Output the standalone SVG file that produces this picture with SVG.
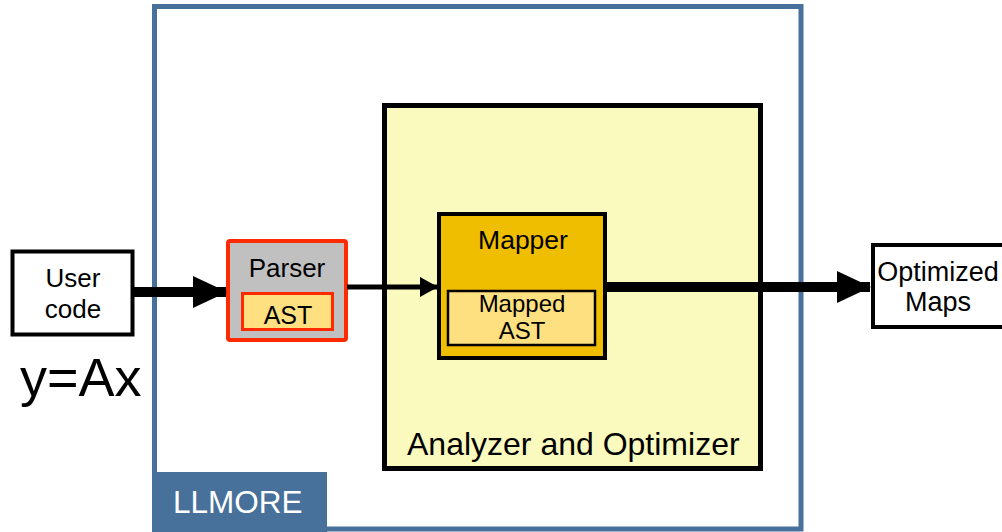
<svg xmlns="http://www.w3.org/2000/svg" width="1002" height="532" viewBox="0 0 1002 532">
<defs>
<style>
text{font-family:"Liberation Sans",Arial,sans-serif;fill:#000}
.c{text-anchor:middle}
.box{fill:#fff;stroke:#000;stroke-width:4}
</style>
<marker id="ah" markerUnits="userSpaceOnUse" markerWidth="34" markerHeight="32" refX="33" refY="16" orient="auto" viewBox="0 0 34 32"><path d="M0,0 L34,16 L0,32 Z" fill="#000"/></marker>
<marker id="ahs" markerUnits="userSpaceOnUse" markerWidth="18" markerHeight="20" refX="17" refY="10" orient="auto" viewBox="0 0 18 20"><path d="M0,0 L18,10 L0,20 Z" fill="#000"/></marker>
</defs>
<rect width="1002" height="532" fill="#fff"/>
<g id="llmore">
<rect x="154.5" y="6.5" width="646.5" height="522.5" fill="#fff" stroke="#47709a" stroke-width="5"/>
<rect x="152" y="472" width="175" height="60" fill="#47709a"/>
<text x="173" y="513" font-size="31.5" style="fill:#fff">LLMORE</text>
</g>
<g id="analyzer">
<rect x="384.5" y="105.5" width="376" height="363" fill="#fafabe" stroke="#000" stroke-width="5"/>
<text x="407" y="455" font-size="32">Analyzer and Optimizer</text>
</g>
<g id="mapper">
<rect x="439" y="214" width="166" height="144" fill="#f0be00" stroke="#000" stroke-width="4"/>
<text x="523" y="249" font-size="26.5" class="c">Mapper</text>
<rect x="448" y="291" width="147" height="54" fill="#ffe080" stroke="#000" stroke-width="2.5"/>
<text x="522" y="312" font-size="24" class="c">Mapped</text>
<text x="522" y="339" font-size="24" class="c">AST</text>
</g>
<g id="parser">
<rect x="228" y="241" width="118" height="99" rx="2" fill="#c0c0c0" stroke="#ff2a00" stroke-width="4"/>
<text x="287" y="277" font-size="26" class="c">Parser</text>
<rect x="242.5" y="293.5" width="90" height="36" fill="#ffe080" stroke="#ff2a00" stroke-width="3"/>
<text x="288" y="324" font-size="25" class="c">AST</text>
</g>
<g id="usercode">
<rect x="12.5" y="251.5" width="120" height="83" class="box" stroke-width="3.5"/>
<text x="73" y="287" font-size="26" class="c">User</text>
<text x="73" y="318" font-size="26" class="c">code</text>
</g>
<g id="yax">
<text x="20" y="396" font-size="54">y=Ax</text>
</g>
<g id="optimized">
<rect x="873" y="245" width="140" height="82" class="box"/>
<text x="938" y="281" font-size="27" class="c">Optimized</text>
<text x="938" y="311" font-size="27" class="c">Maps</text>
</g>
<g id="connectors" stroke="#000" fill="none">
<line x1="134" y1="292" x2="226" y2="292" stroke-width="10" marker-end="url(#ah)"/>
<line x1="347" y1="287" x2="437" y2="287" stroke-width="5" marker-end="url(#ahs)"/>
<line x1="606" y1="287" x2="870" y2="287" stroke-width="10" marker-end="url(#ah)"/>
</g>
</svg>
